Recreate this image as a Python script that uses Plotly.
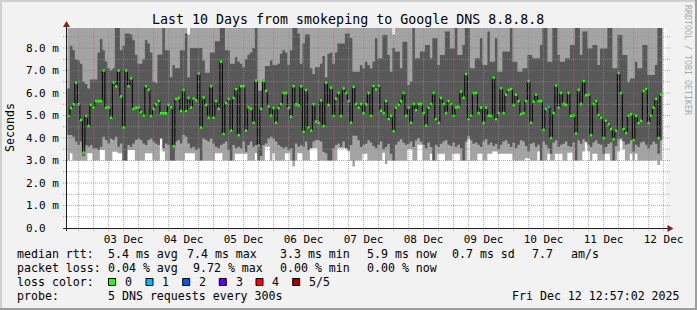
import plotly.graph_objects as go
import pandas as pd

# ---------------- data (milliseconds, one value per hourly column) ----------------
first_hour = "2025-12-02 13:30"
range_start = "2025-12-02 12:57:02"
range_end = "2025-12-12 12:57:02"

median = [
    4.98, 5.33, 5.5, 6.46, 5.5, 4.8, 3.35, 4.98, 4.53, 5.47,
    5.36, 5.64, 5.64, 5.64, 7.0, 5.35, 5.35, 4.9, 6.47, 6.3,
    7.0, 5.85, 4.47, 7.0, 6.3, 6.65, 5.3, 5.35, 5.35, 5.15,
    5.0, 6.3, 6.15, 4.98, 5.3, 5.5, 5.64, 5.1, 5.1, 5.1,
    5.47, 5.36, 3.64, 5.73, 5.78, 5.2, 6.13, 5.2, 5.78, 5.36,
    5.75, 5.67, 6.86, 4.47, 5.8, 5.47, 4.9, 6.3, 4.9, 5.64,
    5.3, 7.39, 4.18, 5.56, 5.73, 4.33, 5.78, 6.17, 4.13, 6.3,
    6.3, 4.33, 5.36, 5.3, 4.68, 6.55, 3.66, 5.3, 6.53, 6.1,
    5.4, 5.0, 5.33, 4.68, 5.33, 5.5, 6.0, 6.0, 5.33, 4.95,
    6.3, 5.5, 5.45, 6.3, 4.28, 6.13, 4.47, 4.33, 5.5, 4.73,
    4.68, 5.67, 4.53, 6.46, 5.47, 6.23, 4.98, 5.75, 6.0, 4.98,
    6.2, 6.0, 5.64, 4.68, 6.27, 5.51, 5.35, 5.51, 5.11, 5.5,
    6.0, 4.99, 6.31, 6.16, 6.31, 5.21, 5.11, 5.64, 4.84, 4.99,
    4.31, 5.35, 5.47, 5.64, 6.0, 4.99, 5.35, 4.68, 5.51, 5.24,
    5.51, 5.51, 5.11, 4.55, 5.35, 5.51, 6.0, 4.84, 4.68, 5.78,
    5.51, 5.11, 5.64, 5.51, 4.99, 5.35, 5.38, 6.06, 5.79, 6.84,
    4.84, 4.99, 6.0, 6.0, 5.11, 5.35, 4.68, 5.35, 4.99, 4.99,
    6.68, 4.84, 5.11, 6.21, 5.11, 5.93, 6.13, 6.18, 5.47, 5.92,
    5.64, 5.06, 5.11, 5.64, 6.53, 4.68, 5.61, 5.93, 5.64, 5.64,
    4.36, 5.29, 5.38, 4.0, 5.11, 6.33, 5.35, 6.0, 5.51, 5.47,
    6.0, 4.99, 4.99, 4.2, 6.14, 5.51, 6.53, 5.9, 5.93, 4.13,
    5.51, 5.64, 5.02, 4.9, 4.0, 4.76, 4.61, 4.4, 3.95, 4.33,
    6.89, 6.0, 4.4, 4.22, 4.99, 5.06, 3.91, 4.99, 4.67, 4.76,
    6.09, 6.18, 4.67, 4.99, 5.35, 5.73, 4.0, 5.93,
]

# number of lost pings (of 5) per column
loss = [0] * 192 + [1] + [0] * 45

# 2nd-highest ping (top of dark smoke)
smoke_hi = [
    6.2, 8.1, 7.9, 7.5, 7.45, 7.3, 6.5, 6.4, 6.2, 6.6,
    6.6, 6.6, 7.8, 8.4, 7.9, 7.4, 7.1, 7.0, 7.1, 9.5,
    9.5, 7.9, 8.1, 8.65, 8.65, 8.6, 8.35, 7.7, 7.3, 7.3,
    7.5, 8.35, 8.2, 7.8, 6.5, 6.45, 7.7, 7.7, 9.5, 7.9,
    7.9, 6.7, 7.25, 7.1, 7.1, 7.9, 7.9, 8.65, 6.7, 8.0,
    8.0, 8.0, 8.0, 8.0, 7.45, 6.9, 6.9, 7.8, 7.8, 8.3,
    8.3, 9.5, 9.5, 7.9, 7.9, 7.3, 7.3, 7.6, 7.4, 7.3,
    7.15, 7.5, 7.7, 7.8, 8.0, 9.5, 6.1, 6.1, 6.6, 7.2,
    7.2, 7.45, 7.25, 7.25, 7.3, 7.75, 7.9, 7.8, 7.25, 7.9,
    9.5, 9.5, 8.65, 7.3, 8.2, 8.6, 8.6, 7.1, 6.85, 7.15,
    7.15, 7.3, 7.65, 6.7, 7.75, 7.8, 7.3, 7.8, 8.2, 8.2,
    8.2, 8.65, 8.65, 8.45, 6.95, 6.95, 6.95, 7.24, 7.1, 7.39,
    7.24, 7.1, 7.39, 8.43, 7.54, 7.54, 8.58, 8.58, 7.69, 6.95,
    8.0, 7.84, 7.84, 7.1, 8.28, 8.28, 6.36, 6.5, 9.5, 7.54,
    7.54, 7.84, 7.84, 8.13, 8.13, 7.54, 8.43, 8.43, 7.24, 7.69,
    7.69, 8.73, 8.73, 7.98, 7.98, 9.5, 7.69, 7.69, 8.13, 9.5,
    9.5, 7.1, 7.1, 7.54, 7.54, 8.43, 7.24, 7.24, 8.73, 7.39,
    7.39, 8.43, 6.95, 6.95, 7.84, 7.84, 7.84, 9.5, 7.39, 7.39,
    6.95, 6.95, 7.1, 7.1, 7.69, 7.69, 7.54, 7.54, 7.54, 8.13,
    9.5, 9.5, 7.39, 7.39, 9.5, 9.5, 7.69, 7.39, 7.39, 7.54,
    7.54, 8.13, 8.13, 9.5, 9.5, 7.69, 8.73, 8.73, 7.98, 7.98,
    8.13, 8.13, 7.24, 7.98, 7.98, 7.98, 9.5, 9.5, 7.1, 7.1,
    8.58, 8.58, 7.69, 7.69, 6.48, 6.65, 6.65, 7.39, 7.1, 7.1,
    8.13, 8.13, 6.8, 6.8, 6.8, 7.24, 9.5, 9.5,
]

# 2nd-lowest ping (bottom of dark smoke)
smoke_lo = [
    4.13, 4.13, 4.06, 3.84, 3.69, 3.84, 3.2, 3.69, 3.61, 3.69,
    3.54, 3.54, 3.47, 3.61, 4.06, 3.91, 3.76, 3.98, 3.91, 4.06,
    3.61, 3.76, 3.0, 3.0, 3.69, 3.61, 3.76, 3.91, 3.98, 3.91,
    3.76, 3.69, 3.91, 3.98, 3.84, 3.76, 3.69, 4.0, 3.54, 3.76,
    3.69, 3.0, 3.0, 3.84, 3.91, 3.76, 4.13, 4.06, 3.76, 3.54,
    3.61, 3.47, 3.54, 3.0, 3.98, 3.91, 3.84, 3.98, 3.76, 3.61,
    3.54, 3.69, 3.76, 3.84, 3.47, 3.0, 3.69, 3.54, 3.61, 3.54,
    3.84, 3.39, 3.69, 3.84, 3.61, 3.69, 3.0, 3.2, 3.69, 3.76,
    3.98, 4.06, 3.98, 3.84, 3.69, 3.61, 3.54, 3.61, 3.47, 3.54,
    3.0, 3.76, 3.61, 3.69, 3.61, 3.84, 3.47, 3.54, 3.84, 3.91,
    3.91, 3.84, 3.39, 3.32, 3.0, 3.0, 3.54, 3.69, 3.76, 3.61,
    3.84, 3.54, 3.47, 3.69, 4.1, 4.1, 3.9, 3.6, 3.7, 3.75,
    3.9, 3.8, 3.65, 3.55, 3.7, 3.85, 3.5, 3.6, 3.75, 3.3,
    3.0, 3.7, 3.85, 3.95, 3.8, 3.7, 3.75, 3.85, 3.6, 3.9,
    4.0, 3.85, 3.7, 3.55, 3.8, 3.6, 3.0, 3.7, 3.6, 3.75,
    3.85, 3.9, 3.7, 3.65, 3.8, 3.6, 3.7, 3.55, 3.0, 3.85,
    4.1, 3.9, 3.75, 3.8, 3.7, 3.6, 3.85, 3.95, 3.7, 3.8,
    3.65, 3.75, 3.5, 3.7, 3.85, 3.9, 3.75, 3.6, 3.8, 3.55,
    3.7, 3.9, 3.85, 3.65, 3.4, 3.75, 3.8, 3.6, 3.7, 3.0,
    3.85, 3.7, 3.55, 3.3, 3.8, 3.9, 3.6, 3.7, 3.75, 3.85,
    3.65, 3.6, 3.8, 3.0, 3.9, 3.75, 3.95, 3.85, 3.7, 3.6,
    3.8, 3.9, 3.75, 3.7, 3.3, 3.6, 3.75, 3.8, 3.0, 3.65,
    3.95, 4.0, 3.85, 3.7, 3.75, 3.9, 3.4, 3.7, 3.6, 3.8,
    3.85, 3.7, 3.55, 3.7, 3.85, 3.75, 3.3, 3.9,
]

# lowest ping (bottom of light smoke)
smoke_min = [
    3.0, 3.32, 3.0, 3.0, 3.0, 3.0, 3.0, 3.0, 3.32, 3.32,
    3.0, 3.0, 3.0, 3.47, 3.47, 3.0, 3.0, 3.0, 3.39, 3.39,
    3.32, 3.32, 3.0, 3.0, 3.47, 3.47, 3.47, 3.0, 3.0, 3.0,
    3.0, 3.32, 3.32, 3.32, 3.0, 3.0, 3.0, 3.95, 3.4, 3.0,
    3.0, 3.0, 3.0, 3.0, 3.0, 3.0, 3.0, 3.32, 3.32, 3.32,
    3.32, 3.0, 3.0, 3.0, 3.0, 3.0, 3.0, 3.0, 3.0, 3.32,
    3.32, 3.32, 3.0, 3.0, 3.0, 3.0, 3.0, 3.3, 3.3, 3.3,
    3.3, 3.3, 3.0, 3.0, 3.0, 3.32, 3.0, 3.0, 3.0, 3.61,
    3.61, 3.0, 3.32, 3.0, 3.0, 3.0, 3.0, 3.32, 3.32, 3.0,
    2.73, 3.0, 3.32, 3.32, 3.0, 3.0, 3.0, 3.54, 3.54, 3.54,
    3.0, 3.0, 3.0, 3.0, 3.0, 3.0, 3.0, 3.0, 3.54, 3.54,
    3.54, 3.54, 3.4, 3.0, 2.73, 3.0, 3.0, 3.0, 3.3, 3.3,
    3.0, 3.0, 3.0, 3.0, 3.0, 3.0, 3.35, 2.85, 3.0, 3.0,
    3.0, 3.0, 3.0, 3.0, 3.0, 3.0, 3.5, 3.5, 3.0, 3.0,
    3.7, 3.7, 3.0, 3.0, 3.0, 3.3, 3.0, 3.0, 3.3, 3.3,
    3.3, 3.0, 3.0, 3.0, 3.3, 3.3, 3.3, 3.0, 3.0, 3.0,
    3.98, 3.0, 3.0, 3.0, 3.3, 3.3, 3.0, 3.0, 3.3, 3.3,
    3.4, 3.4, 3.3, 3.3, 3.3, 3.3, 3.3, 3.3, 3.0, 3.0,
    3.0, 3.0, 3.0, 3.1, 3.1, 3.0, 3.0, 3.0, 3.4, 3.0,
    3.0, 3.0, 3.3, 3.0, 3.0, 3.3, 3.3, 3.3, 3.0, 3.0,
    3.35, 3.35, 3.0, 3.0, 3.0, 3.0, 3.4, 3.8, 3.4, 3.0,
    3.3, 3.3, 3.0, 3.0, 3.0, 3.3, 3.3, 3.0, 3.0, 3.0,
    3.4, 3.9, 3.5, 3.0, 3.0, 3.3, 3.0, 3.3, 3.0, 3.0,
    3.0, 3.0, 3.0, 3.0, 3.0, 3.0, 2.8, 3.0,
]

# highest ping (top of light smoke; values above the chart are clipped)
smoke_max = [9.5] * 48 + [8.6] + [9.5] * 81 + [8.6] + [9.5] * 107

assert len(median) == len(loss) == len(smoke_hi) == len(smoke_lo) == len(smoke_min) == len(smoke_max)

y_tick_values = [0, 1, 2, 3, 4, 5, 6, 7, 8]
y_tick_labels = ["0.0\u00a0\u00a0", "1.0 m", "2.0 m", "3.0 m", "4.0 m",
                 "5.0 m", "6.0 m", "7.0 m", "8.0 m"]
x_tick_values = ["2025-12-%02d 12:00" % d for d in range(3, 13)]
x_tick_labels = ["%02d Dec" % d for d in range(3, 13)]

loss_colors = {0: "#26ff00", 1: "#00b8ff", 2: "#0059ff", 3: "#5e00ff", 4: "#ff0000", 5: "#a00000"}
loss_labels = ["0", "1", "2", "3", "4", "5/5"]

title = "Last 10 Days from smokeping to Google DNS 8.8.8.8"
legend_rows = [
    [("median rtt:", 16), ("5.4 ms avg", 107.3), ("7.4 ms max", 186), ("3.3 ms min", 279.3),
     ("5.9 ms now", 366), ("0.7 ms sd", 451), ("7.7", 531.7), ("am/s", 570.7)],
    [("packet loss:", 16), ("0.04 % avg", 107.3), ("9.72 % max", 192.7), ("0.00 % min", 279.3),
     ("0.00 % now", 366)],
    [("loss color:", 16)],
    [("probe:", 16), ("5 DNS requests every 300s", 107.3)],
]
stamp = "Fri Dec 12 12:57:02 2025"

# ---------------- layout geometry (pixels) ----------------
W, H = 697, 310
L, T, PW, PH = 66, 28, 600, 200
PXPERMS = 22.5
YMAX = PH / PXPERMS
MONO = "DejaVu Sans Mono"


def fx(px):
    return (px - L) / PW


def fy(py):
    return 1 - (py - T) / PH


n = len(median)
edges = pd.date_range(first_hour, periods=n + 1, freq="h")


def step(vals):
    return list(vals) + [vals[-1]]


fig = go.Figure()
common = dict(mode="lines", hoverinfo="skip", showlegend=False)
fig.add_trace(go.Scatter(x=edges, y=step(smoke_min), line=dict(width=0, shape="hv"), **common))
fig.add_trace(go.Scatter(x=edges, y=step(smoke_max), line=dict(width=0, shape="hv"),
                         fill="tonexty", fillcolor="#a4a4a4", **common))
fig.add_trace(go.Scatter(x=edges, y=step(smoke_lo), line=dict(width=0, shape="hv"), **common))
fig.add_trace(go.Scatter(x=edges, y=step(smoke_hi), line=dict(width=0, shape="hv"),
                         fill="tonexty", fillcolor="#585858", **common))
fig.add_trace(go.Scatter(x=edges, y=step(median), line=dict(width=1, shape="hv", color="#000000"), **common))

for lv, col in loss_colors.items():
    xs, ys = [], []
    for k in range(n):
        if loss[k] == lv:
            xs += [edges[k], edges[k + 1], None]
            ys += [median[k], median[k], None]
    if xs:
        fig.add_trace(go.Scatter(x=xs, y=ys, line=dict(width=2.5, color=col), **common))

shapes = []
GRID = "rgba(143,143,143,0.75)"
MGRID = "rgba(222,79,79,0.6)"
DOT = "1px,1px"

# horizontal grid
for i in range(1, int(YMAX * 2) + 1):
    v = i * 0.5
    major = (i % 2 == 0)
    shapes.append(dict(type="line", xref="paper", yref="y", x0=fx(63), x1=fx(670), y0=v, y1=v,
                       line=dict(color=MGRID if major else GRID, width=1, dash=DOT), layer="above"))
# vertical grid
for t in pd.date_range("2025-12-02 18:00", "2025-12-12 12:00", freq="6h"):
    major = (t.hour == 0)
    shapes.append(dict(type="line", xref="x", yref="paper", x0=t, x1=t, y0=fy(231), y1=1,
                       line=dict(color=MGRID if major else GRID, width=1, dash=DOT), layer="above"))
# axes
shapes.append(dict(type="line", xref="paper", yref="paper", x0=fx(63), x1=fx(669), y0=fy(228.5), y1=fy(228.5),
                   line=dict(color="#1f1f1f", width=1), layer="above"))
shapes.append(dict(type="line", xref="paper", yref="paper", x0=fx(66.5), x1=fx(66.5), y0=fy(231), y1=fy(24),
                   line=dict(color="#1f1f1f", width=1), layer="above"))
shapes.append(dict(type="path", xref="paper", yref="paper",
                   path="M %f %f L %f %f L %f %f Z" % (fx(667.5), fy(225), fx(673.5), fy(228.5), fx(667.5), fy(232)),
                   fillcolor="#801f1f", line=dict(width=0), layer="above"))
shapes.append(dict(type="path", xref="paper", yref="paper",
                   path="M %f %f L %f %f L %f %f Z" % (fx(63), fy(27), fx(66.5), fy(21), fx(70), fy(27)),
                   fillcolor="#801f1f", line=dict(width=0), layer="above"))
# 3D frame
shapes += [
    dict(type="rect", xref="paper", yref="paper", x0=fx(0), x1=fx(W), y0=fy(0), y1=fy(2),
         fillcolor="#cfcfcf", line=dict(width=0), layer="above"),
    dict(type="rect", xref="paper", yref="paper", x0=fx(0), x1=fx(2), y0=fy(0), y1=fy(H),
         fillcolor="#cfcfcf", line=dict(width=0), layer="above"),
    dict(type="rect", xref="paper", yref="paper", x0=fx(0), x1=fx(W), y0=fy(H - 2), y1=fy(H),
         fillcolor="#9e9e9e", line=dict(width=0), layer="above"),
    dict(type="rect", xref="paper", yref="paper", x0=fx(W - 2), x1=fx(W), y0=fy(0), y1=fy(H),
         fillcolor="#9e9e9e", line=dict(width=0), layer="above"),
]
# loss colour boxes
box_x = [108.5, 146, 182.7, 219.3, 256, 292.7]
lab_x = [122.5, 160.3, 196.6, 233.6, 270.3, 306.6]
annotations = []
for i, (lv, col) in enumerate(loss_colors.items()):
    shapes.append(dict(type="rect", xref="paper", yref="paper", x0=fx(box_x[i]), x1=fx(box_x[i] + 7),
                       y0=fy(278.5), y1=fy(285.5), fillcolor=col, line=dict(color="#000000", width=1)))
    annotations.append(dict(text=loss_labels[i], x=fx(lab_x[i]), y=fy(282.3), xref="paper", yref="paper",
                            xanchor="left", yanchor="middle", showarrow=False,
                            font=dict(family=MONO, size=11.6, color="#000")))

row_y = [254.3, 268.3, 282.3, 296.3]
for r, row in enumerate(legend_rows):
    for txt, px in row:
        annotations.append(dict(text=txt.replace(" ", "\u00a0"), x=fx(px - 1.5), y=fy(row_y[r]),
                                xref="paper", yref="paper", xanchor="left", yanchor="middle",
                                showarrow=False, font=dict(family=MONO, size=11.6, color="#000")))
annotations.append(dict(text=stamp.replace(" ", "\u00a0"), x=fx(682), y=fy(row_y[3]), xref="paper", yref="paper",
                        xanchor="right", yanchor="middle", showarrow=False,
                        font=dict(family=MONO, size=11.6, color="#000")))
annotations.append(dict(text=title, x=fx(348), y=fy(19), xref="paper", yref="paper",
                        xanchor="center", yanchor="middle", showarrow=False,
                        font=dict(family=MONO, size=13.3, color="#000")))
annotations.append(dict(text="Seconds", x=fx(10), y=fy(128), xref="paper", yref="paper",
                        xanchor="center", yanchor="middle", showarrow=False, textangle=-90,
                        font=dict(family=MONO, size=11.6, color="#000")))
annotations.append(dict(text="RRDTOOL / TOBI OETIKER", x=fx(688), y=fy(60), xref="paper", yref="paper",
                        xanchor="center", yanchor="middle", showarrow=False, textangle=90,
                        font=dict(family=MONO, size=8.3, color="#a8a8a8")))

fig.update_layout(
    width=W, height=H,
    margin=dict(l=L, r=W - L - PW, t=T, b=H - T - PH, pad=0),
    paper_bgcolor="#f2f2f2", plot_bgcolor="#ffffff",
    shapes=shapes, annotations=annotations, showlegend=False,
    xaxis=dict(type="date", range=[range_start, range_end], tickvals=x_tick_values, ticktext=x_tick_labels,
               showgrid=False, zeroline=False, showline=False, ticks="", ticklabelstandoff=3,
               tickfont=dict(family=MONO, size=11, color="#000")),
    yaxis=dict(range=[0, YMAX], tickvals=y_tick_values, ticktext=y_tick_labels,
               showgrid=False, zeroline=False, showline=False, ticks="", ticklabelstandoff=6,
               tickfont=dict(family=MONO, size=11, color="#000")),
)

fig.write_html("out.html")
